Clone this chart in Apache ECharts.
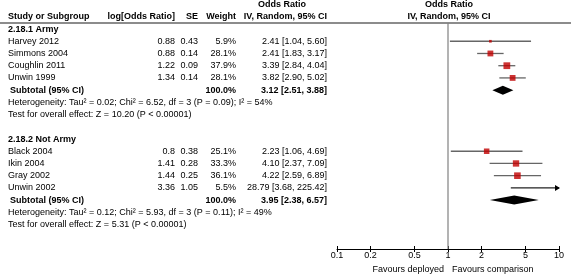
<!DOCTYPE html>
<html><head><meta charset="utf-8">
<script src="https://cdn.jsdelivr.net/npm/echarts@6/dist/echarts.min.js"></script>
<style>html,body{margin:0;padding:0;background:#fff}#c{width:571px;height:274px}</style>
</head><body><div id="c"></div>
<script>
const groups = ['2.18.1 Army', '2.18.2 Not Army'];
const studies = ['Harvey 2012','Simmons 2004','Coughlin 2011','Unwin 1999','Black 2004','Ikin 2004','Gray 2002','Unwin 2002'];
const studyGroup = [0,0,0,0,1,1,1,1];
const logOR = ['0.88','0.88','1.22','1.34','0.8','1.41','1.44','3.36'];
const se = ['0.43','0.14','0.09','0.14','0.38','0.28','0.25','1.05'];
const weight = [5.9,28.1,37.9,28.1,25.1,33.3,36.1,5.5];
const orEst = [2.41,2.41,3.39,3.82,2.23,4.10,4.22,28.79];
const orLo = [1.04,1.83,2.84,2.90,1.06,2.37,2.59,3.68];
const orHi = [5.60,3.17,4.04,5.02,4.69,7.09,6.89,225.42];
const subEst = [3.12,3.95];
const subLo = [2.51,2.38];
const subHi = [3.88,6.57];
const subWeight = ['100.0%','100.0%'];
const heterogeneity = ['Heterogeneity: Tau\u00b2 = 0.02; Chi\u00b2 = 6.52, df = 3 (P = 0.09); I\u00b2 = 54%',
                       'Heterogeneity: Tau\u00b2 = 0.12; Chi\u00b2 = 5.93, df = 3 (P = 0.11); I\u00b2 = 49%'];
const overall = ['Test for overall effect: Z = 10.20 (P < 0.00001)',
                 'Test for overall effect: Z = 5.31 (P < 0.00001)'];
const tickValues = [0.1,0.2,0.5,1,2,5,10];
const favours = ['Favours deployed','Favours comparison'];
const headers = ['Study or Subgroup','log[Odds Ratio]','SE','Weight','Odds Ratio','IV, Random, 95% CI'];

// ---- layout (row indices) ----
const FONT = 'Liberation Sans, Arial, sans-serif';
const col = {study: 8, sub: 10, lor: 175, se: 198, w: 236, ci: 327, orC: 282, plotC: 449, favL: 444, favR: 452};
const studyRow = [], groupRow = [], subRow = [], hetRow = [], testRow = [];
let r = 0;
for (let g = 0; g < groups.length; g++) {
  groupRow[g] = r++;
  studies.forEach((s, i) => { if (studyGroup[i] === g) studyRow[i] = r++; });
  subRow[g] = r++; hetRow[g] = r++; testRow[g] = r++; r++;
}
const axisRow = 18;
const fmt = v => v.toFixed(2);
const ciText = (e, l, h) => fmt(e) + ' [' + fmt(l) + ', ' + fmt(h) + ']';

const texts = [];
function T(x, row, text, align, bold) { texts.push({x, row, text, align, bold}); }
T(col.orC, -2, headers[4], 'center', true);
T(col.plotC, -2, headers[4], 'center', true);
T(col.study, -1, headers[0], 'left', true);
T(col.lor, -1, headers[1], 'right', true);
T(col.se, -1, headers[2], 'right', true);
T(col.w, -1, headers[3], 'right', true);
T(col.ci, -1, headers[5], 'right', true);
T(col.plotC, -1, headers[5], 'center', true);
for (let g = 0; g < groups.length; g++) {
  T(col.study, groupRow[g], groups[g], 'left', true);
  T(col.sub, subRow[g], 'Subtotal (95% CI)', 'left', true);
  T(col.w, subRow[g], subWeight[g], 'right', true);
  T(col.ci, subRow[g], ciText(subEst[g], subLo[g], subHi[g]), 'right', true);
  T(col.study, hetRow[g], heterogeneity[g], 'left', false);
  T(col.study, testRow[g], overall[g], 'left', false);
}
studies.forEach((s, i) => {
  T(col.study, studyRow[i], s, 'left', false);
  T(col.lor, studyRow[i], logOR[i], 'right', false);
  T(col.se, studyRow[i], se[i], 'right', false);
  T(col.w, studyRow[i], weight[i].toFixed(1) + '%', 'right', false);
  T(col.ci, studyRow[i], ciText(orEst[i], orLo[i], orHi[i]), 'right', false);
});
T(col.favL, 19.65, favours[0], 'right', false);
T(col.favR, 19.65, favours[1], 'left', false);

const chart = echarts.init(document.getElementById('c'), null, {renderer: 'canvas'});
const gridTop = 4.6, gridH = 244.4;
const yAx = gi => ({type: 'value', gridIndex: gi, min: -2, max: axisRow, inverse: true, show: false});
const XMIN = 0.1, XMAX = 10;

chart.setOption({
  animation: false,
  grid: [
    {left: 337, width: 222, top: gridTop, height: gridH},
    {left: 0, width: 571, top: gridTop, height: gridH}
  ],
  xAxis: [
    {type: 'log', logBase: 10, gridIndex: 0, min: XMIN, max: XMAX, position: 'bottom',
     axisLine: {onZero: false, lineStyle: {color: '#000', width: 1}},
     axisTick: {customValues: tickValues, length: 3, lineStyle: {color: '#000'}},
     axisLabel: {customValues: tickValues, fontSize: 9, fontFamily: FONT, color: '#000', margin: 2},
     splitLine: {show: false}},
    {type: 'value', gridIndex: 1, min: 0, max: 571, show: false},
    {type: 'log', logBase: 10, gridIndex: 0, min: XMIN, max: XMAX, position: 'bottom', offset: 0,
     axisLine: {show: false, onZero: false},
     axisTick: {customValues: tickValues, length: 3, inside: true, lineStyle: {color: '#000'}},
     axisLabel: {show: false}, splitLine: {show: false}}
  ],
  yAxis: [yAx(0), yAx(1)],
  series: [
    { // header rule
      type: 'custom', xAxisIndex: 1, yAxisIndex: 1, clip: false,
      data: [[0, -0.5, 571]],
      renderItem: (p, api) => {
        const a = api.coord([api.value(0), api.value(1)]);
        const b = api.coord([api.value(2), api.value(1)]);
        return {type: 'line', shape: {x1: a[0], y1: a[1], x2: b[0], y2: b[1]}, style: {stroke: '#666', lineWidth: 1.5}};
      }
    },
    { // line of no effect
      type: 'custom', xAxisIndex: 0, yAxisIndex: 0, clip: false,
      data: [[1, -0.5, axisRow]],
      renderItem: (p, api) => {
        const a = api.coord([api.value(0), api.value(1)]);
        const b = api.coord([api.value(0), api.value(2)]);
        return {type: 'line', shape: {x1: a[0], y1: a[1], x2: b[0], y2: b[1]}, style: {stroke: '#808080', lineWidth: 1.2}};
      }
    },
    { // CI lines
      type: 'custom', xAxisIndex: 0, yAxisIndex: 0, clip: false,
      data: studies.map((s, i) => [orLo[i], Math.min(orHi[i], XMAX), studyRow[i], orHi[i] > XMAX ? 1 : 0]),
      renderItem: (p, api) => {
        const a = api.coord([api.value(0), api.value(2)]);
        const b = api.coord([api.value(1), api.value(2)]);
        const arrow = api.value(3) === 1;
        const children = [{type: 'line', shape: {x1: a[0], y1: a[1], x2: b[0], y2: b[1]},
          style: {stroke: arrow ? '#222' : '#666', lineWidth: 1.3}}];
        if (arrow) {
          children.push({type: 'polygon', shape: {points: [[b[0] + 1, b[1]], [b[0] - 4, b[1] - 3], [b[0] - 4, b[1] + 3]]},
            style: {fill: '#000'}});
        }
        return {type: 'group', children};
      }
    },
    { // study squares
      type: 'scatter', xAxisIndex: 0, yAxisIndex: 0, clip: true, symbol: 'rect',
      data: studies.map((s, i) => [orEst[i], studyRow[i], weight[i]]),
      symbolSize: v => Math.sqrt(v[2]) * 1.1,
      itemStyle: {color: '#c00000'}
    },
    { // diamonds
      type: 'custom', xAxisIndex: 0, yAxisIndex: 0, clip: false,
      data: groups.map((g, k) => [subLo[k], subEst[k], subHi[k], subRow[k]]),
      renderItem: (p, api) => {
        const row = api.value(3);
        const l = api.coord([api.value(0), row]);
        const c = api.coord([api.value(1), row]);
        const h = api.coord([api.value(2), row]);
        return {type: 'polygon', shape: {points: [[l[0], l[1]], [c[0], c[1] - 4.5], [h[0], h[1]], [c[0], c[1] + 4.5]]},
          style: {fill: '#000'}};
      }
    },
    { // table text
      type: 'custom', xAxisIndex: 1, yAxisIndex: 1, clip: false,
      data: texts.map(t => [t.x, t.row]),
      renderItem: (p, api) => {
        const t = texts[p.dataIndex];
        const pt = api.coord([api.value(0), api.value(1)]);
        return {type: 'text', x: pt[0], y: pt[1],
          style: {text: t.text, align: t.align, verticalAlign: 'middle', fill: '#000',
                  font: (t.bold ? 'bold ' : '') + '9px ' + FONT}};
      }
    }
  ]
});
</script></body></html>
